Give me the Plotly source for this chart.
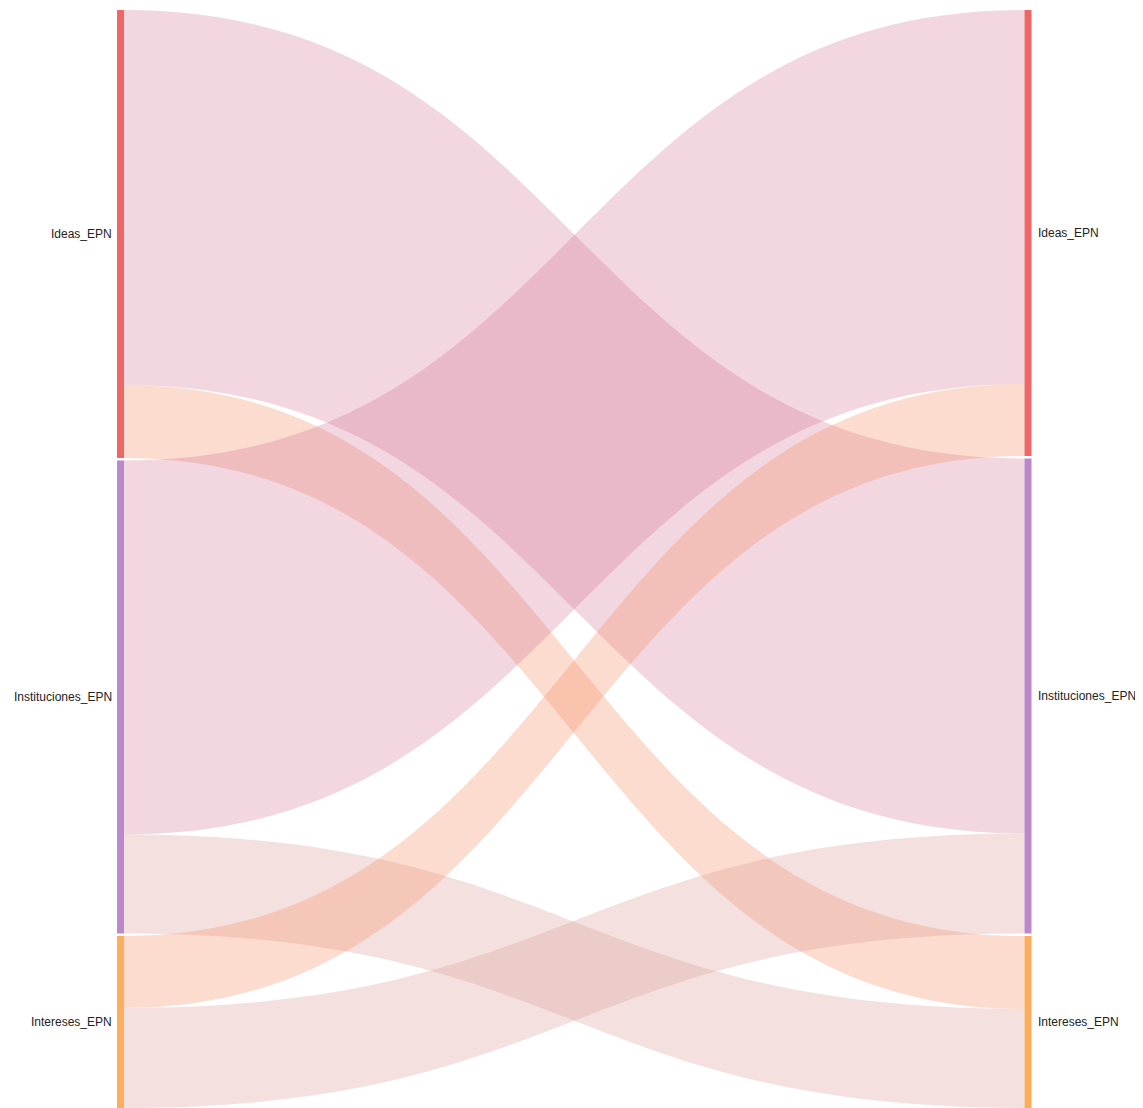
import plotly.graph_objects as go

# ---- data ----
node_names = ["Ideas_EPN", "Instituciones_EPN", "Intereses_EPN",
              "Ideas_EPN", "Instituciones_EPN", "Intereses_EPN"]
node_colors = ["#ee6666", "#bb88cc", "#fdad5c", "#ee6666", "#bb88cc", "#fdad5c"]
link_source = [0, 0, 1, 1, 2, 2]
link_target = [4, 5, 3, 5, 3, 4]
link_value = [375, 73, 374, 99, 72, 100]

# page body has an 8px margin, so the figure is drawn at (8, 8)
OFF = 8
W, H = 1143 - OFF, 1108 - OFF
left_px, right_px = 117 - OFF, 1031.5 - OFF
top_px, bot_px = 10 - OFF, 1108 - OFF
dom_x = [left_px / W, right_px / W]
dom_y = [1 - bot_px / H, 1 - top_px / H]
PAD = 2.5
THICK = 7

def hex_rgb(h):
    h = h.lstrip("#")
    return tuple(int(h[i:i + 2], 16) for i in (0, 2, 4))

def blend(c1, c2, a):
    r1, r2 = hex_rgb(c1), hex_rgb(c2)
    m = [round((x + y) / 2) for x, y in zip(r1, r2)]
    return f"rgba({m[0]},{m[1]},{m[2]},{a})"

link_colors = [blend(node_colors[s], node_colors[t], 0.3)
               for s, t in zip(link_source, link_target)]

# node totals
totals = []
for i in range(len(node_names)):
    out_v = sum(v for s, v in zip(link_source, link_value) if s == i)
    in_v = sum(v for t, v in zip(link_target, link_value) if t == i)
    totals.append(max(out_v, in_v))

dom_h_px = bot_px - top_px
dom_w_px = right_px - left_px
columns = [[0, 1, 2], [3, 4, 5]]
ky = min((dom_h_px - (len(c) - 1) * PAD) / sum(totals[i] for i in c) for c in columns)

node_x = [0.0] * len(node_names)
node_y = [0.0] * len(node_names)
centers_px = [0.0] * len(node_names)
for ci, col in enumerate(columns):
    y = 0.0
    for i in col:
        hgt = totals[i] * ky
        centers_px[i] = y + hgt / 2
        node_y[i] = (y + hgt / 2) / dom_h_px
        node_x[i] = (THICK / 2) / dom_w_px if ci == 0 else 1 - (THICK / 2) / dom_w_px
        y += hgt + PAD

fig = go.Figure(go.Sankey(
    domain=dict(x=dom_x, y=dom_y),
    arrangement="fixed",
    node=dict(
        label=["" for _ in node_names],
        customdata=node_names,
        hovertemplate="%{customdata}: %{value}<extra></extra>",
        color=node_colors,
        pad=PAD,
        thickness=THICK,
        line=dict(width=0),
        x=node_x,
        y=node_y,
    ),
    link=dict(
        source=link_source,
        target=link_target,
        value=link_value,
        color=link_colors,
    ),
))

annotations = []
for ci, col in enumerate(columns):
    for i in col:
        ypx = top_px + centers_px[i]
        annotations.append(dict(
            text=node_names[i],
            x=(left_px - 3) / W if ci == 0 else (right_px + 4) / W,
            y=1 - ypx / H,
            xref="paper", yref="paper",
            xanchor="right" if ci == 0 else "left",
            yanchor="middle",
            showarrow=False,
            font=dict(size=12, color="#222222", family="Liberation Sans, Arial, sans-serif"),
        ))

fig.update_layout(
    width=W, height=H,
    margin=dict(l=0, r=0, t=0, b=0),
    paper_bgcolor="white",
    plot_bgcolor="white",
    annotations=annotations,
    font=dict(family="Liberation Sans, Arial, sans-serif", size=12, color="#222222"),
)

fig.write_html("out.html")
